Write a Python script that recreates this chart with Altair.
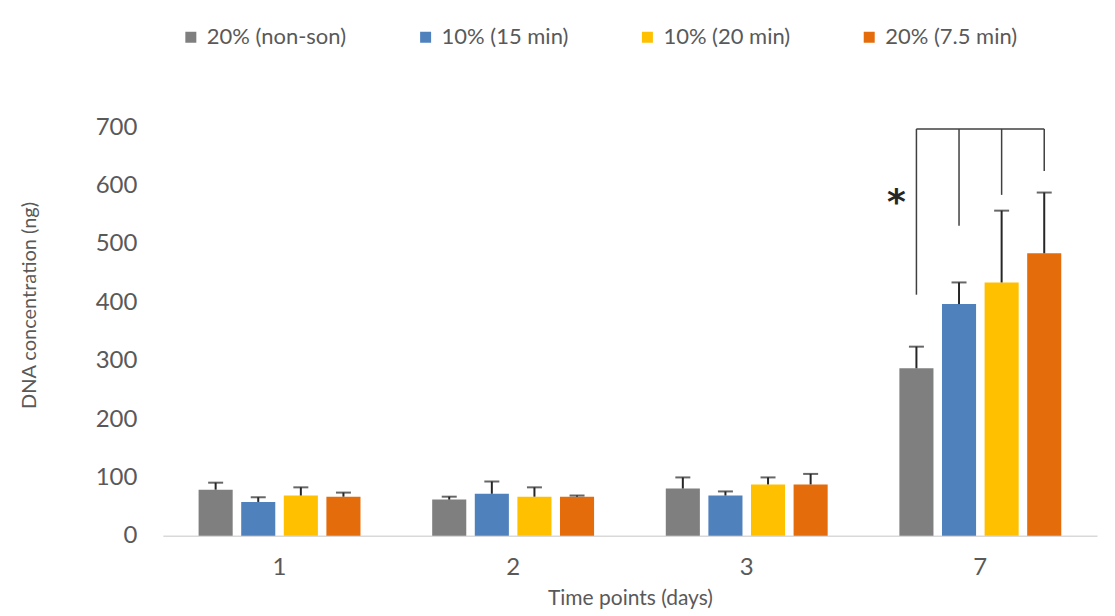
import altair as alt
import pandas as pd

# ---- data ----
groups = ["1", "2", "3", "7"]
series = ["20% (non-son)", "10% (15 min)", "10% (20 min)", "20% (7.5 min)"]
colors = ["#7f7f7f", "#4f81bd", "#ffc000", "#e46c0a"]

mean_nonson = [79, 62, 81, 287]
mean_15min = [58, 72, 69, 397]
mean_20min = [69, 67, 88, 434]
mean_75min = [67, 67, 88, 484]

err_nonson = [12, 5, 19, 37]
err_15min = [8, 21, 7, 37]
err_20min = [14, 16, 12, 123]
err_75min = [7, 2, 18, 104]

# significance bracket (day 7)
bracket_group = "7"
bracket_top = 697
bracket_bottoms = [413, 531, 584, 625]
star_label = "*"
star_value = 590

y_ticks = [0, 100, 200, 300, 400, 500, 600, 700]

# ---- tables ----
means = [mean_nonson, mean_15min, mean_20min, mean_75min]
errs = [err_nonson, err_15min, err_20min, err_75min]
rows = []
for s, m, e in zip(series, means, errs):
    for g, mv, ev in zip(groups, m, e):
        rows.append({"group": g, "series": s, "mean": mv, "upper": mv + ev})
df = pd.DataFrame(rows)

br = pd.DataFrame({
    "group": [bracket_group] * 4,
    "series": series,
    "bottom": bracket_bottoms,
    "top": [bracket_top] * 4,
    "idx": list(range(4)),
})
star = pd.DataFrame({"group": [bracket_group], "series": [series[0]],
                     "v": [star_value], "label": [star_label]})

FONT = "Lato"
TXT = "#595959"
DARK = "#262626"

x_enc = alt.X("group:N", sort=groups,
              scale=alt.Scale(domain=groups, paddingInner=0.307, paddingOuter=0.153),
              axis=alt.Axis(title="Time points (days)", labelAngle=0, ticks=False,
                            domainColor="#d9d9d9", domainWidth=1.5,
                            labelFontSize=24, labelFont=FONT, labelColor=TXT,
                            labelPadding=20,
                            titleFontSize=21, titleFont=FONT, titleColor=TXT,
                            titleFontWeight="normal", titleY=69,
                            titleBaseline="alphabetic"))
xo_enc = alt.XOffset("series:N", sort=series,
                     scale=alt.Scale(domain=series, paddingInner=0.2, paddingOuter=0))
y_scale = alt.Scale(domain=[0, 700], nice=False)

bars = alt.Chart(df).mark_bar().encode(
    x=x_enc,
    xOffset=xo_enc,
    y=alt.Y("mean:Q", scale=y_scale, stack=None,
            axis=alt.Axis(values=y_ticks, grid=False, domain=False, ticks=False,
                          labelFontSize=24, labelFont=FONT, labelColor=TXT,
                          labelPadding=26,
                          title="DNA concentration (ng)", titleFontSize=20,
                          titleFont=FONT, titleColor=TXT, titleFontWeight="normal",
                          titleX=-127, titleY=178, titleAlign="center",
                          titleBaseline="alphabetic", titleAngle=-90)),
    color=alt.Color("series:N", sort=series,
                    scale=alt.Scale(domain=series, range=colors),
                    legend=alt.Legend(orient="none", legendX=17, legendY=-101,
                                      direction="horizontal", columns=4, title=None,
                                      symbolType="square", symbolSize=121,
                                      symbolStrokeWidth=0, symbolOpacity=1,
                                      labelFontSize=22, labelFont=FONT,
                                      labelColor=TXT, columnPadding=68,
                                      labelOffset=5, padding=0)),
)

err_rule = alt.Chart(df).mark_rule(color=DARK, strokeWidth=2).encode(
    x=alt.X("group:N", sort=groups),
    xOffset=alt.XOffset("series:N", sort=series),
    y=alt.Y("mean:Q", scale=y_scale),
    y2="upper:Q",
)
err_cap = alt.Chart(df).mark_tick(color=DARK, thickness=2, size=15,
                                  orient="horizontal").encode(
    x=alt.X("group:N", sort=groups),
    xOffset=alt.XOffset("series:N", sort=series),
    y=alt.Y("upper:Q", scale=y_scale),
)

br_vert = alt.Chart(br).mark_rule(color="#404040", strokeWidth=1.5).encode(
    x=alt.X("group:N", sort=groups),
    xOffset=alt.XOffset("series:N", sort=series),
    y=alt.Y("bottom:Q", scale=y_scale),
    y2="top:Q",
)
br_horiz = alt.Chart(br).mark_line(color="#404040", strokeWidth=1.5).encode(
    x=alt.X("group:N", sort=groups),
    xOffset=alt.XOffset("series:N", sort=series),
    y=alt.Y("top:Q", scale=y_scale),
    order="idx:Q",
)
star_txt = alt.Chart(star).mark_text(fontSize=36, font="DejaVu Sans", color=DARK,
                                     fontWeight="bold",
                                     dx=-20, dy=12, baseline="middle").encode(
    x=alt.X("group:N", sort=groups),
    xOffset=alt.XOffset("series:N", sort=series),
    y=alt.Y("v:Q", scale=y_scale),
    text="label:N",
)

chart = alt.layer(bars, err_rule, err_cap, br_vert, br_horiz, star_txt).properties(
    width=935, height=409,
    autosize=alt.AutoSizeParams(type="none"),
    padding={"left": 155, "top": 119, "right": 10, "bottom": 76},
    background="white",
).configure_view(stroke=None)

chart.save("out.html", embed_options={"renderer": "svg", "actions": False})
